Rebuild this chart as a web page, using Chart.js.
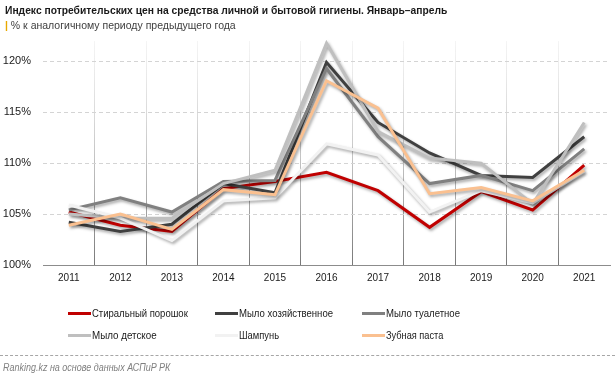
<!DOCTYPE html>
<html>
<head>
<meta charset="utf-8">
<script src="https://cdn.jsdelivr.net/npm/chart.js@4.4.1/dist/chart.umd.min.js"></script>
<style>
html, body { margin: 0; padding: 0; background: #fff; }
#wrap { position: relative; width: 615px; height: 377px; overflow: hidden; font-family: "Liberation Sans", Arial, sans-serif; }
#c { position: absolute; left: 0; top: 0; }
.txt { position: absolute; white-space: nowrap; line-height: 1; transform-origin: 0 50%; display: inline-block; }
.swatch { position: absolute; width: 23px; height: 3px; }
#foot-line { position: absolute; left: 0; top: 355px; width: 615px; border-top: 1px dashed #a6a6a6; }
</style>
</head>
<body>
<div id="wrap">
 <canvas id="c" width="615" height="377"></canvas>
 <div id="foot-line"></div>
</div>
<script>
// years on the x axis
const years = ["2011","2012","2013","2014","2015","2016","2017","2018","2019","2020","2021"]

// % to the same period of the previous year
const powder    = [105.2, 103.9, 103.3, 107.5, 108.2, 109.1, 107.3, 103.7, 107.2, 105.4, 109.8]
const soapHouse = [104.2, 103.3, 104.0, 108.0, 107.1, 119.9, 114.0, 111.0, 108.8, 108.6, 112.6]
const soapToilet= [105.4, 106.6, 105.2, 108.2, 108.3, 119.3, 112.6, 108.0, 108.8, 107.3, 111.4]
const soapBaby  = [105.0, 104.6, 104.6, 108.0, 109.3, 121.8, 113.1, 110.5, 110.0, 106.0, 114.0]
const shampoo   = [105.9, 104.6, 102.4, 106.3, 106.6, 111.9, 110.8, 105.2, 107.3, 106.1, 109.2]
const toothpaste= [103.9, 105.0, 103.5, 107.4, 106.9, 118.1, 115.4, 107.0, 107.6, 106.3, 109.3]

const seriesNames = ["Стиральный порошок", "Мыло хозяйственное", "Мыло туалетное", "Мыло детское", "Шампунь", "Зубная паста"]
const seriesColors = ["#c00000", "#404040", "#808080", "#bfbfbf", "#f2f2f2", "#fac090"]
const seriesData = [powder, soapHouse, soapToilet, soapBaby, shampoo, toothpaste]

const yTicks = [100, 105, 110, 115, 120]

const wrap = document.getElementById("wrap")

// put a text at (x, yCenter) and squeeze it to a given width
function addText(str, x, yc, w, css) {
 const el = document.createElement("div")
 el.className = "txt"
 el.textContent = str
 el.style.cssText += css
 el.style.left = x + "px"
 el.style.top = yc + "px"
 wrap.appendChild(el)
 const k = w ? w / el.offsetWidth : 1
 el.style.transform = "translateY(-50%) scaleX(" + k + ")"
 return el
}

addText("Индекс потребительских цен на средства личной и бытовой гигиены. Январь–апрель", 5, 11, 442,
 "font-size:11.5px;font-weight:bold;color:#1a1a1a;")
const sub = addText("", 5, 26, 0, "font-size:10px;color:#404040;")
sub.innerHTML = '<span style="color:#e8a800;font-weight:bold">|</span> % к аналогичному периоду предыдущего года'
sub.style.transform = "translateY(-50%) scaleX(" + (231 / sub.offsetWidth) + ")"

addText("Ranking.kz на основе данных АСПиР РК", 3, 368, 167, "font-size:10px;font-style:italic;color:#808080;")

// legend, 3 columns x 2 rows
const legX = [68, 215, 362]
const legY = [313, 335]
const legW = [96, 94, 74, 65, 40, 57]
seriesNames.forEach((name, i) => {
 const x = legX[i % 3], y = legY[Math.floor(i / 3)]
 const sw = document.createElement("div")
 sw.className = "swatch"
 sw.style.left = x + "px"
 sw.style.top = (y - 1.5) + "px"
 sw.style.background = seriesColors[i]
 wrap.appendChild(sw)
 addText(name, x + 24, y, legW[i], "font-size:11px;color:#1a1a1a;")
})

const shadow = {
 id: "shadow",
 beforeDatasetsDraw(chart) {
  const ctx = chart.ctx
  ctx.save()
  ctx.shadowColor = "rgba(0,0,0,0.35)"
  ctx.shadowBlur = 3
  ctx.shadowOffsetX = 1.5
  ctx.shadowOffsetY = 2
 },
 afterDatasetsDraw(chart) {
  chart.ctx.restore()
 }
}

function xGridColor(c) {
 if (c.index === undefined || c.index === 0) return "rgba(0,0,0,0)"
 const a = c.chart.chartArea
 if (!a) return "#999"
 const g = c.chart.ctx.createLinearGradient(0, a.top, 0, a.bottom)
 g.addColorStop(0, "rgba(200,200,200,0.2)")
 g.addColorStop(1, "rgba(120,120,120,1)")
 return g
}

new Chart(document.getElementById("c"), {
 type: "line",
 data: {
  labels: years,
  datasets: seriesData.map((d, i) => ({
   label: seriesNames[i],
   data: d,
   borderColor: seriesColors[i],
   backgroundColor: seriesColors[i],
   borderWidth: 3,
   pointRadius: 0,
   tension: 0,
   clip: false,
   order: seriesData.length - i
  }))
 },
 options: {
  responsive: false,
  animation: false,
  layout: { padding: { top: 41, left: 0, right: 5, bottom: 87 } },
  plugins: { legend: { display: false }, tooltip: { enabled: false } },
  scales: {
   x: {
    offset: true,
    grid: { offset: true, color: xGridColor, lineWidth: 1, drawTicks: false },
    border: { display: true, color: "#8c8c8c", width: 1 },
    ticks: { color: "#1a1a1a", font: { family: "Liberation Sans", size: 10 }, padding: 7, maxRotation: 0 },
    afterFit(s) { s.height = 25 }
   },
   y: {
    min: 100,
    max: 122,
    afterBuildTicks(s) { s.ticks = yTicks.map(v => ({ value: v })) },
    grid: { color: c => c.tick && c.tick.value === 100 ? "rgba(0,0,0,0)" : "#d4d4d4", drawTicks: false },
    border: { display: false, dash: [4, 3] },
    ticks: { color: "#1a1a1a", font: { family: "Liberation Sans", size: 11 }, padding: 12, callback: v => v + "%" },
    afterFit(s) { s.width = 43 }
   }
  }
 },
 plugins: [shadow]
})
</script>
</body>
</html>
